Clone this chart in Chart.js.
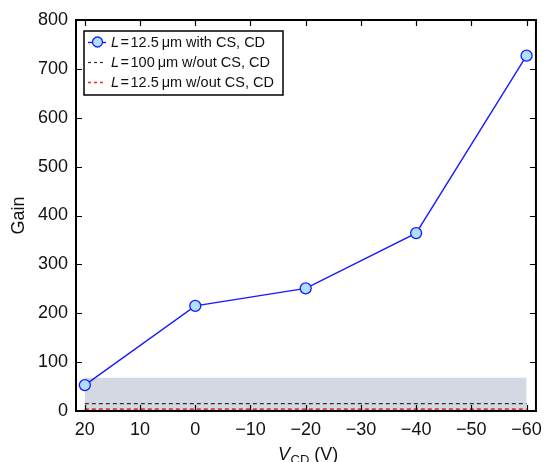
<!DOCTYPE html>
<html><head><meta charset="utf-8">
<style>html,body{margin:0;padding:0;background:#fff}#wrap{width:550px;height:462px}</style>
<script src="https://cdn.jsdelivr.net/npm/chart.js@4/dist/chart.umd.min.js"></script>
</head><body><div id="wrap"><canvas id="c" width="550" height="462"></canvas></div>
<script>
const vcd = [20, 0, -20, -40, -60];
const gainCS = [53, 215, 251, 364, 727];
const bandX = [20, -60];
const bandTop = [68, 68];
const ref100 = [15, 15];
const ref125 = [3.5, 3.5];
const xTicks = [20, 10, 0, -10, -20, -30, -40, -50, -60];
const yTicks = [0, 100, 200, 300, 400, 500, 600, 700, 800];
const legendLabels = ['12.5\u2009\u03bcm with CS, CD', '100\u2009\u03bcm w/out CS, CD', '12.5\u2009\u03bcm w/out CS, CD'];

const FONT = '"Liberation Sans", Arial, Helvetica, sans-serif';
const fmt = v => (v < 0 ? '\u2212' + Math.abs(v) : String(v));

const framePlugin = {
  id: 'frame',
  afterDraw(chart) {
    const ctx = chart.ctx, a = chart.chartArea;
    const xs = chart.scales.x, ys = chart.scales.y;
    ctx.save();
    ctx.strokeStyle = '#000';
    ctx.lineWidth = 2;
    ctx.strokeRect(a.left, a.top, a.right - a.left, a.bottom - a.top);
    ctx.lineWidth = 1.2;
    const tl = 6;
    ctx.beginPath();
    xTicks.forEach(v => {
      const p = Math.round(xs.getPixelForValue(v)) + 0.5;
      ctx.moveTo(p, a.bottom); ctx.lineTo(p, a.bottom - tl);
      ctx.moveTo(p, a.top); ctx.lineTo(p, a.top + tl);
    });
    yTicks.forEach(v => {
      const p = Math.round(ys.getPixelForValue(v)) + 0.5;
      ctx.moveTo(a.left, p); ctx.lineTo(a.left + tl, p);
      ctx.moveTo(a.right, p); ctx.lineTo(a.right - tl, p);
    });
    ctx.stroke();

    // axis titles
    ctx.fillStyle = '#111';
    ctx.textBaseline = 'alphabetic';
    const cx = (a.left + a.right) / 2;
    const f1 = 'italic 18px ' + FONT, f2 = '13px ' + FONT, f3 = '18px ' + FONT;
    ctx.font = f1; const w1 = ctx.measureText('V').width;
    ctx.font = f2; const w2 = ctx.measureText('CD').width;
    ctx.font = f3; const w3 = ctx.measureText(' (V)').width;
    let x0 = cx - (w1 + w2 + w3) / 2 + 2;
    const by = 460;
    ctx.font = f1; ctx.fillText('V', x0, by); x0 += w1 + 0.5;
    ctx.font = f2; ctx.fillText('CD', x0, by + 4); x0 += w2;
    ctx.font = f3; ctx.fillText(' (V)', x0, by);

    ctx.save();
    ctx.translate(24, (a.top + a.bottom) / 2);
    ctx.rotate(-Math.PI / 2);
    ctx.textAlign = 'center';
    ctx.font = '18px ' + FONT;
    ctx.fillText('Gain', 0, 0);
    ctx.restore();

    // legend
    const lx = 84, ly = 31, lw = 199, lh = 64;
    ctx.fillStyle = '#fff';
    ctx.fillRect(lx, ly, lw, lh);
    ctx.strokeStyle = '#000'; ctx.lineWidth = 1.5;
    ctx.strokeRect(lx, ly, lw, lh);
    const rows = [42, 62, 82];
    const styles = [
      {c: '#1a1aff', dash: [], marker: true, w: 1.4},
      {c: '#333', dash: [3, 3], marker: false, w: 1.2},
      {c: '#ee3333', dash: [3, 3], marker: false, w: 1.6}
    ];
    rows.forEach((ry, i) => {
      const s = styles[i];
      ctx.strokeStyle = s.c; ctx.lineWidth = s.w; ctx.setLineDash(s.dash);
      ctx.beginPath(); ctx.moveTo(88, ry + 0.5); ctx.lineTo(106, ry + 0.5); ctx.stroke();
      ctx.setLineDash([]);
      if (s.marker) {
        ctx.beginPath(); ctx.arc(97.5, ry, 5, 0, Math.PI * 2);
        ctx.fillStyle = '#aee0f8'; ctx.fill();
        ctx.strokeStyle = '#1a1aff'; ctx.lineWidth = 1.3; ctx.stroke();
      }
      ctx.fillStyle = '#111';
      ctx.textBaseline = 'middle';
      let tx = 111;
      ctx.font = 'italic 14.5px ' + FONT; ctx.fillText('L', tx, ry + 1); tx += ctx.measureText('L').width + 1.5;
      ctx.font = '14.5px ' + FONT; ctx.fillText('=', tx, ry + 1); tx += ctx.measureText('=').width + 1.5;
      ctx.fillText(legendLabels[i], tx, ry + 1);
    });
    ctx.restore();
  }
};

new Chart(document.getElementById('c'), {
  type: 'line',
  data: {
    datasets: [
      {
        label: 'main', data: vcd.map((x, i) => ({x, y: gainCS[i]})),
        borderColor: '#1a1aff', borderWidth: 1.4, backgroundColor: '#aee0f8',
        pointRadius: 5.5, pointHoverRadius: 5.5, pointBorderColor: '#1a1aff', pointBorderWidth: 1.3,
        pointBackgroundColor: '#aee0f8', order: 0, fill: false, tension: 0
      },
      {
        label: 'ref100', data: bandX.map((x, i) => ({x, y: ref100[i]})),
        borderColor: '#333', borderWidth: 1.2, borderDash: [4, 3], pointRadius: 0, order: 1, fill: false
      },
      {
        label: 'ref125', data: bandX.map((x, i) => ({x, y: ref125[i]})),
        borderColor: '#d83838', borderWidth: 2, borderDash: [4, 3], pointRadius: 0, order: 2, fill: false
      },
      {
        label: 'band', data: bandX.map((x, i) => ({x, y: bandTop[i]})),
        borderWidth: 0, borderColor: 'rgba(0,0,0,0)', backgroundColor: '#d3d8e2', pointRadius: 0,
        fill: 'origin', order: 3
      }
    ]
  },
  plugins: [framePlugin],
  options: {
    responsive: false, animation: false,
    layout: {padding: {top: 20, right: 8, left: 0, bottom: 0}},
    plugins: {legend: {display: false}, tooltip: {enabled: false}},
    scales: {
      x: {
        type: 'linear', min: -61.7, max: 21.6, reverse: true,
        grid: {display: false, drawTicks: false}, border: {display: false},
        afterBuildTicks: s => { s.ticks = xTicks.map(v => ({value: v})); },
        afterFit: s => { s.height = 51; },
        ticks: {font: {family: FONT, size: 18}, color: '#111', padding: 8, maxRotation: 0, autoSkip: false, callback: v => fmt(v)}
      },
      y: {
        type: 'linear', min: 0, max: 800,
        grid: {display: false, drawTicks: false}, border: {display: false},
        afterBuildTicks: s => { s.ticks = yTicks.map(v => ({value: v})); },
        afterFit: s => { s.width = 76; },
        ticks: {font: {family: FONT, size: 18}, color: '#111', padding: 8, autoSkip: false, callback: v => fmt(v)}
      }
    }
  }
});
</script></body></html>
